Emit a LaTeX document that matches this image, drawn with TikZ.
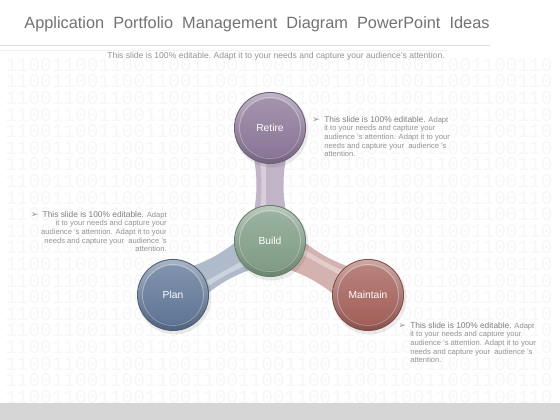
\documentclass[tikz,border=0pt]{standalone}
\usepackage{fontspec}
\setmainfont{Liberation Sans}
\newfontfamily\binfont{Liberation Mono}
\newfontfamily\symfont{DejaVu Sans}
\usetikzlibrary{calc}

\definecolor{retirec}{HTML}{8A7597}
\definecolor{buildc}{HTML}{7E9C85}
\definecolor{planc}{HTML}{5E7595}
\definecolor{maintc}{HTML}{A35F58}
\definecolor{retirearm}{HTML}{C1B4C6}
\definecolor{planarm}{HTML}{AFBBCB}
\definecolor{maintarm}{HTML}{D4B2B0}

\def\binrow{11001100110011001100110011001100110011001100110}
\def\bullet{\llap{{\symfont\fontsize{6.5}{6}\selectfont ➢}\hspace{3pt}}}
\def\pbullet{{\symfont\fontsize{6.5}{6}\selectfont ➢}\hspace{3pt}}
\def\lead{\fontsize{5.95}{6.1}\selectfont\color{black!50}}

% one arm, drawn from the centre outwards
\newcommand\arm[3]{%
  \begin{scope}[shift={(#1)}, rotate=#2]
    \fill[#3] (0,-24) .. controls (40,-10) and (72,-10) .. (112,-24) -- (112,24) .. controls (72,10) and (40,10) .. (0,24) -- cycle;
    \fill[#3!65!white] (0,4) -- (112,4) -- (112,16) .. controls (72,6) and (40,6) .. (0,16) -- cycle;
  \end{scope}}
% one glossy stage circle
\newcommand\stage[4]{%
  \fill[black, opacity=0.08] ($(#2)+(1.5,-2.5)$) circle (37);
  \fill[#3!80!black] (#2) circle (36);
  \shade[top color=#3!55!white, bottom color=#3!85!black] (#2) circle (35);
  \draw[white, opacity=0.3, line width=0.6pt] (#2) circle (30.5);
  \shade[top color=#3!78!white, bottom color=#3] (#2) circle (29.5);
  \node[stagetext] (#1) at (#2) {#4};}

\tikzset{
  stagetext/.style={inner sep=0pt, text=white, font=\fontsize{7.3}{9}\selectfont},
  note/.style={inner sep=0pt, text=black!42, font=\fontsize{5.4}{6.1}\selectfont},
  bin/.style={inner sep=0pt, anchor=west, text=black!3, font=\binfont\fontsize{13.8}{14}\selectfont}
}

\begin{document}
\begin{tikzpicture}[x=0.025cm, y=0.025cm]
  \useasboundingbox (0,0) rectangle (560,420);
  \fill[white] (0,0) rectangle (560,420);

  %%%%% background digits %%%%%
  \foreach \r in {0,...,20}
    \node[bin] (row\r) at (5, {355-\r*16.6}) {\binrow};
  \fill[black!16] (0,0) rectangle (560,17);

  %%%%% heading %%%%%
  \node[text=black!55, font=\fontsize{11.6}{14}\selectfont] (title) at (257, 396)
    {Application\ \ Portfolio\ \ Management\ \ Diagram\ \ PowerPoint\ \ Ideas};
  \draw[black!13, line width=0.5pt] (0,375) -- (490,375);
  \draw[black!6, line width=0.4pt] (0,370) -- (447,370);
  \node[text=black!42, font=\fontsize{6.1}{7}\selectfont] (sub) at (276, 364)
    {This slide is 100\% editable.\ Adapt it to your needs and capture your audience's attention.};

  %%%%% arms %%%%%
  \coordinate (c-build) at (270,179);
  \coordinate (c-retire) at (270,292);
  \coordinate (c-plan) at (173,125);
  \coordinate (c-maint) at (368,125);
  \arm{c-build}{90}{retirearm}
  \arm{c-build}{209}{planarm}
  \arm{c-build}{331}{maintarm}

  %%%%% stages %%%%%
  \stage{retire}{c-retire}{retirec}{Retire}
  \stage{plan}{c-plan}{planc}{Plan}
  \stage{maint}{c-maint}{maintc}{Maintain}
  \stage{build}{c-build}{buildc}{Build}

  %%%%% notes %%%%%
  \node[note, anchor=north west, align=left] (retire note) at (324, 304)
    {\bullet{\lead This slide is 100\% editable.} Adapt\\
     it to your needs and capture your\\
     audience 's attention. Adapt it to your\\
     needs and capture your\ \ audience 's\\
     attention.};
  \node[note, anchor=north east, align=right] (plan note) at (167, 209)
    {\pbullet{\lead This slide is 100\% editable.} Adapt\\
     it to your needs and capture your\\
     audience 's attention. Adapt it to your\\
     needs and capture your\ \ audience 's\\
     attention.};
  \node[note, anchor=north west, align=left] (maint note) at (410, 98)
    {\bullet{\lead This slide is 100\% editable.} Adapt\\
     it to your needs and capture your\\
     audience 's attention. Adapt it to your\\
     needs and capture your\ \ audience 's\\
     attention.};
\end{tikzpicture}
\end{document}
